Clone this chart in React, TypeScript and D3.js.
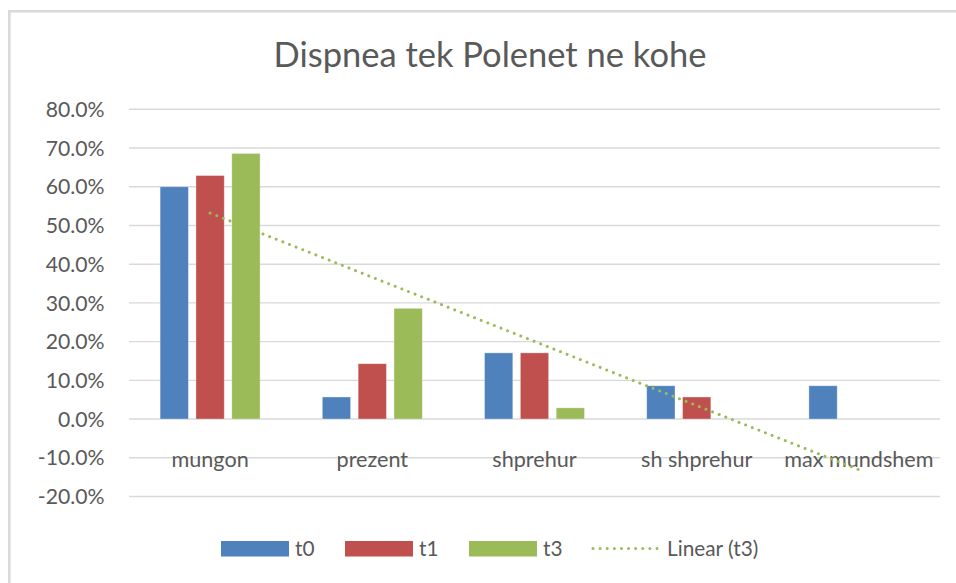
import React from "react";
import * as d3 from "d3";

const categories = ["mungon", "prezent", "shprehur", "sh shprehur", "max mundshem"];
const seriesNames = ["t0", "t1", "t3"];
const t0 = [60.0, 5.7, 17.1, 8.6, 8.6];
const t1 = [62.9, 14.3, 17.1, 5.7, 0];
const t3 = [68.6, 28.6, 2.9, 0, 0];
const trendT3 = [53.2, -13.1]; // linear trend of t3 at first and last category
const yTicks = [80, 70, 60, 50, 40, 30, 20, 10, 0, -10, -20];
const colors = ["#4F81BD", "#C0504D", "#9BBB59"];
const title = "Dispnea tek Polenet ne kohe";
const trendLabel = "Linear (t3)";

const W = 956;
const H = 583;
const FONT = "Lato, 'Open Sans', sans-serif";
const TEXT = "#595959";

export default function App() {
  const plotL = 129;
  const plotR = 940;
  const y = d3.scaleLinear().domain([-20, 80]).range([496.5, 109.3]);
  const x0 = d3.scaleBand<string>().domain(categories).range([plotL, plotR]).paddingInner(0).paddingOuter(0);
  const groupW = 100;
  const x1 = d3
    .scaleBand<string>()
    .domain(seriesNames)
    .range([0, groupW])
    .paddingInner(0.21)
    .paddingOuter(0);
  const data = [t0, t1, t3];
  const cx = (c: string) => (x0(c) as number) + x0.bandwidth() / 2;

  const trendPts: [number, number][] = [
    [cx(categories[0]), y(trendT3[0])],
    [cx(categories[categories.length - 1]), y(trendT3[1])],
  ];
  const line = d3.line();

  const legendStart = 221;
  const legendStep = 124;

  return (
    <svg
      width={W}
      height={H}
      style={{ position: "absolute", left: 0, top: 0, background: "#fff" }}
      fontFamily={FONT}
    >
      <rect x={0} y={0} width={W} height={H} fill="#fff" />
      {/* chart frame */}
      <line x1={9.3} x2={9.3} y1={10} y2={H} stroke="#d9d9d9" strokeWidth={2.6} />
      <line x1={8} x2={W} y1={11.3} y2={11.3} stroke="#d9d9d9" strokeWidth={2.6} />

      <text x={490} y={66.5} textAnchor="middle" fontSize={34.5} fill={TEXT}>
        {title}
      </text>

      {/* gridlines + y labels */}
      {yTicks.map((t) => (
        <g key={t}>
          <line x1={plotL} x2={plotR} y1={y(t)} y2={y(t)} stroke="#d9d9d9" strokeWidth={1.4} />
          <text x={104.5} y={y(t)} dy="0.36em" textAnchor="end" fontSize={21.2} fill={TEXT}>
            {`${t.toFixed(1)}%`}
          </text>
        </g>
      ))}

      {/* category labels */}
      {categories.map((c) => (
        <text key={c} x={cx(c)} y={466.5} textAnchor="middle" fontSize={21.6} fill={TEXT}>
          {c}
        </text>
      ))}

      {/* bars */}
      {data.map((vals, si) =>
        vals.map((v, ci) => {
          if (v === 0) return null;
          const c = categories[ci];
          const bx = cx(c) - groupW / 2 + (x1(seriesNames[si]) as number);
          const top = y(Math.max(v, 0));
          const bottom = y(Math.min(v, 0));
          return (
            <rect
              key={`${si}-${ci}`}
              x={bx}
              y={top}
              width={x1.bandwidth()}
              height={bottom - top}
              fill={colors[si]}
              stroke="#ffffff"
              strokeOpacity={0.45}
              strokeWidth={0.8}
            />
          );
        })
      )}

      {/* trendline */}
      <path
        d={line(trendPts) as string}
        fill="none"
        stroke="#9BBB59"
        strokeWidth={3}
        strokeLinecap="round"
        strokeDasharray="0.01 7.1"
      />

      {/* legend */}
      {seriesNames.map((s, i) => (
        <g key={s} transform={`translate(${legendStart + i * legendStep},0)`}>
          <rect x={0} y={541} width={68} height={15.5} fill={colors[i]} />
          <text x={74} y={556} fontSize={20.8} fill={TEXT}>
            {s}
          </text>
        </g>
      ))}
      <g transform={`translate(${legendStart + 3 * legendStep - 2},0)`}>
        <line
          x1={2}
          x2={66}
          y1={548.5}
          y2={548.5}
          stroke="#9BBB59"
          strokeWidth={3}
          strokeLinecap="round"
          strokeDasharray="0.01 7.1"
        />
        <text x={76} y={556} fontSize={20.8} fill={TEXT}>
          {trendLabel}
        </text>
      </g>
    </svg>
  );
}
